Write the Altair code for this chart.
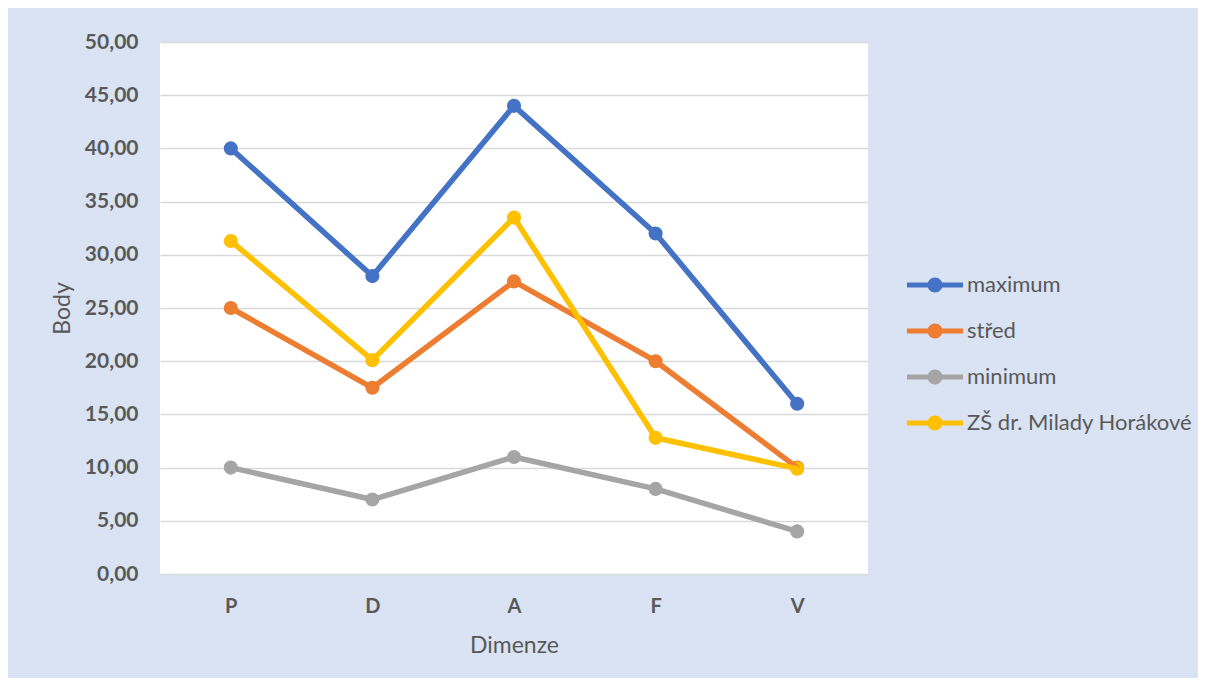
import altair as alt
import pandas as pd

categories = ["P", "D", "A", "F", "V"]
series_names = ["maximum", "střed", "minimum", "ZŠ dr. Milady Horákové"]
maximum = [40, 28, 44, 32, 16]
stred = [25, 17.5, 27.5, 20, 10]
minimum = [10, 7, 11, 8, 4]
zs = [31.3, 20.1, 33.5, 12.8, 9.9]
colors = ["#4472C4", "#ED7D31", "#A5A5A5", "#FFC000"]
y_ticks = [0, 5, 10, 15, 20, 25, 30, 35, 40, 45, 50]

rows = []
for name, vals in zip(series_names, [maximum, stred, minimum, zs]):
    for c, v in zip(categories, vals):
        rows.append({"Dimenze": c, "Body": v, "serie": name})
df = pd.DataFrame(rows)

FONT = "Lato"
TXT = "#595959"

# legend symbol: thick line with a dot in the middle (unit = 15px)
legend_path = ("M-1.87,-0.17 L1.87,-0.17 L1.87,0.17 L-1.87,0.17 Z "
               "M0.5,0 A0.5,0.5 0 1,1 -0.5,0 A0.5,0.5 0 1,1 0.5,0 Z")

x_enc = alt.X("Dimenze:N", sort=categories,
              scale=alt.Scale(padding=0.5),
              axis=alt.Axis(title="Dimenze", labelAngle=0, labelFont=FONT,
                            labelFontWeight="bold", labelFontSize=20,
                            labelColor=TXT, labelPadding=22, ticks=False,
                            domain=False, grid=False, titleFont=FONT,
                            titleFontSize=23, titleFontWeight="normal",
                            titleColor=TXT, titlePadding=18))
y_enc = alt.Y("Body:Q", scale=alt.Scale(domain=[0, 50], nice=False),
              axis=alt.Axis(title="Body", values=y_ticks,
                            labelExpr="replace(format(datum.value, '.2f'), '.', ',')",
                            labelFont=FONT, labelFontWeight="bold",
                            labelFontSize=21, labelColor=TXT, labelPadding=22,
                            ticks=False, domain=False, gridColor="#D9D9D9",
                            gridWidth=1.5, titleFont=FONT, titleFontSize=23,
                            titleFontWeight="normal", titleColor=TXT,
                            titlePadding=10))
color_enc = alt.Color("serie:N", sort=series_names,
                      scale=alt.Scale(domain=series_names, range=colors),
                      legend=alt.Legend(title=None, orient="none",
                                        legendX=760, legendY=228,
                                        symbolType=legend_path,
                                        symbolSize=900, symbolStrokeWidth=0,
                                        labelFont=FONT, labelFontSize=22,
                                        labelColor=TXT, labelOffset=17,
                                        rowPadding=20, padding=0,
                                        labelLimit=400))

points = alt.Chart(df).mark_point(filled=True, size=200, opacity=1).encode(
    x=x_enc, y=y_enc, color=color_enc, detail="serie:N")
lines = alt.Chart(df).mark_line(strokeWidth=5.5, strokeCap="round",
                                strokeJoin="round").encode(
    x=x_enc, y=y_enc, color=color_enc, detail="serie:N")

chart = alt.layer(points, lines).properties(
    width=708, height=532,
    autosize=alt.AutoSizeParams(type="none"),
    padding={"left": 152, "top": 34, "right": 330, "bottom": 104},
).configure(background="#DAE3F3").configure_view(fill="white", stroke=None)

chart.save("out.html", embed_options={"renderer": "svg", "actions": False})
